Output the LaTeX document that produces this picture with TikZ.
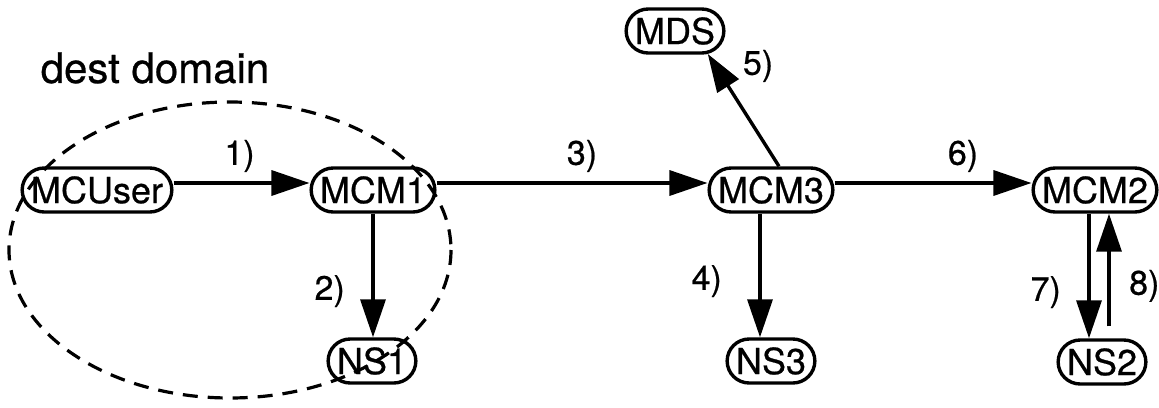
\documentclass[tikz,border=0pt]{standalone}
\usepackage{fontspec}
\setmainfont{TeX Gyre Heros}[UprightFeatures={FakeBold=0.6}]
\usetikzlibrary{arrows.meta,shapes.misc,calc}
\begin{document}
\begin{tikzpicture}[x=1pt,y=-1pt,
  box/.style={draw,line width=3.4pt,rounded rectangle,inner xsep=4pt,inner ysep=3pt,
    minimum height=44pt,font=\fontsize{36}{40}\selectfont},
  flow/.style={line width=3.4pt,-{Triangle[length=38pt,width=25pt]}},
  lbl/.style={font=\fontsize{34}{38}\selectfont},
  tag/.style={lbl,inner sep=0pt},
  boundary/.style={line width=3.2pt,dash pattern=on 15pt off 10pt}]
\useasboundingbox (0,0) rectangle (1159,407);

% nodes
\node[box] (user) at (97,190) {MCUser};
\node[box] (m1)   at (373,190) {MCM1};
\node[box] (ns1)  at (372,361) {NS1};
\node[box] (mds)  at (675,31) {MDS};
\node[box] (m3)   at (771,190) {MCM3};
\node[box] (ns3)  at (771,361) {NS3};
\node[box] (m2)   at (1095,190) {MCM2};
\node[box] (ns2)  at (1102,362) {NS2};

% domain boundary
\draw[boundary] (230,250) ellipse [x radius=221, y radius=148];
\node[font=\fontsize{42}{48}\selectfont] (title) at (155,68) {dest domain};

% end points of the vertical messages
\coordinate (t2) at (ns1.north -| m1.south);
\coordinate (s4) at ([xshift=-11pt]m3.south);
\coordinate (t4) at (s4 |- ns3.north);
\coordinate (s7) at ([xshift=-6pt]m2.south);
\coordinate (t7) at (s7 |- ns2.north);
\coordinate (t8) at ([xshift=14pt]m2.south);
\coordinate (s8) at ([yshift=12pt]t8 |- ns2.north);
\coordinate (t5) at (mds.-35);

% messages
\draw[flow] ([yshift=7pt]user.east) -- ([yshift=7pt]m1.west)
  node[lbl,midway,above=6pt,xshift=-2pt] (l1) {1)};
\draw[flow] (m1.south) -- (t2);
\draw[flow] ([yshift=7pt]m1.east) -- ([yshift=7pt]m3.west)
  node[lbl,midway,above=6pt,xshift=10pt] (l3) {3)};
\draw[flow] (s4) -- (t4);
\draw[flow] ([xshift=8pt]m3.north) -- (t5);
\draw[flow] ([yshift=7pt]m3.east) -- ([yshift=7pt]m2.west)
  node[lbl,midway,above=6pt,xshift=30pt] (l6) {6)};
\draw[flow] (s7) -- (t7);
\draw[flow] (s8) -- (t8);

% step labels beside the arrow heads
\node[tag,anchor=south east] (l2) at ($(t2)+(-28,-30)$) {2)};
\node[tag,anchor=south east] (l4) at ($(t4)+(-38,-40)$) {4)};
\node[tag,anchor=west]       (l5) at ($(t5)+(35,12)$) {5)};
\node[tag,anchor=south east] (l7) at ($(t7)+(-28,-30)$) {7)};
\node[tag,anchor=north west] (l8) at ($(t8)+(20,56)$) {8)};
\end{tikzpicture}
\end{document}
